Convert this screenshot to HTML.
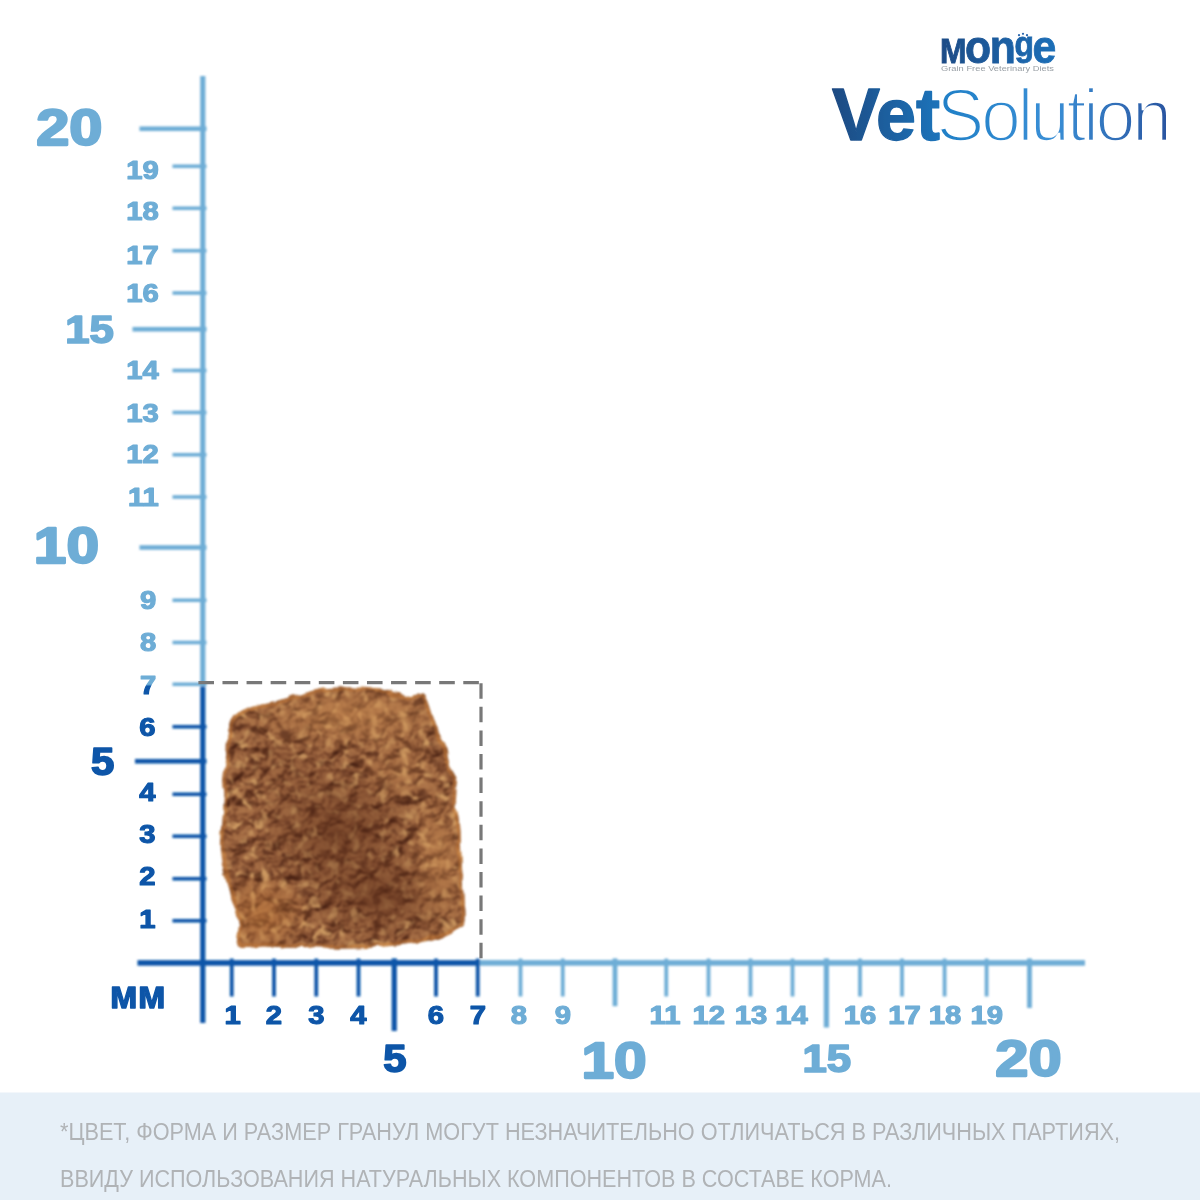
<!DOCTYPE html>
<html lang="ru"><head><meta charset="utf-8"><title>Monge VetSolution</title>
<style>
html,body{margin:0;padding:0;background:#fff;}
body{width:1200px;height:1200px;overflow:hidden;position:relative;font-family:"Liberation Sans",sans-serif;}
svg{position:absolute;left:0;top:0;display:block}
text{font-family:"Liberation Sans",sans-serif;}
.b{font-weight:700}
</style></head><body>
<svg width="1200" height="1200" viewBox="0 0 1200 1200">
<defs>
<linearGradient id="gVet" x1="0" x2="1" y1="0" y2="0"><stop offset="0" stop-color="#1f4a82"/><stop offset="1" stop-color="#1a73ba"/></linearGradient>
<linearGradient id="gSol" x1="0" x2="1" y1="0" y2="0"><stop offset="0" stop-color="#1f7fc6"/><stop offset="0.5" stop-color="#3a8fd6"/><stop offset="1" stop-color="#2a55a0"/></linearGradient>
<linearGradient id="gMon" x1="0" x2="1" y1="0" y2="0"><stop offset="0" stop-color="#1d4b86"/><stop offset="1" stop-color="#1f6fb8"/></linearGradient>
<filter id="soft" x="-5%" y="-5%" width="110%" height="110%"><feGaussianBlur stdDeviation="0.7"/></filter>
<filter id="soft2" x="-5%" y="-5%" width="110%" height="110%"><feGaussianBlur stdDeviation="0.65"/></filter>
<filter id="soft3" x="-2%" y="-2%" width="104%" height="104%"><feGaussianBlur stdDeviation="0.8"/></filter>
</defs>
<rect x="0" y="0" width="1200" height="1200" fill="#ffffff"/>
<rect x="0" y="1092.5" width="1200" height="108" fill="#e7f0f8"/>

<g filter="url(#soft3)">
<rect x="200.2" y="76" width="5.2" height="610.5" fill="#6eadd6"/>
<rect x="200.2" y="686.5" width="5.2" height="336.5" fill="#0b55a8"/>
<rect x="137.5" y="960.1" width="341" height="5.6" fill="#0b55a8"/>
<rect x="478" y="960.1" width="607" height="5.6" fill="#6eadd6"/>
<rect x="172.5" y="918.95" width="34" height="3.6" fill="#0b55a8"/>
<rect x="172.5" y="876.95" width="34" height="3.6" fill="#0b55a8"/>
<rect x="172.5" y="834.45" width="34" height="3.6" fill="#0b55a8"/>
<rect x="172.5" y="792.45" width="34" height="3.6" fill="#0b55a8"/>
<rect x="135" y="758.95" width="71.5" height="4.6" fill="#0b55a8"/>
<rect x="172.5" y="724.95" width="34" height="3.6" fill="#0b55a8"/>
<rect x="172.5" y="682.45" width="34" height="3.6" fill="#6eadd6"/>
<rect x="172.5" y="640.7" width="34" height="3.6" fill="#6eadd6"/>
<rect x="172.5" y="598.45" width="34" height="3.6" fill="#6eadd6"/>
<rect x="139.5" y="545.2" width="67" height="4.6" fill="#6eadd6"/>
<rect x="172.5" y="495.2" width="34" height="3.6" fill="#6eadd6"/>
<rect x="172.5" y="452.95" width="34" height="3.6" fill="#6eadd6"/>
<rect x="172.5" y="410.7" width="34" height="3.6" fill="#6eadd6"/>
<rect x="172.5" y="368.7" width="34" height="3.6" fill="#6eadd6"/>
<rect x="132.5" y="326.95" width="74.0" height="4.6" fill="#6eadd6"/>
<rect x="172.5" y="291.2" width="34" height="3.6" fill="#6eadd6"/>
<rect x="172.5" y="248.95" width="34" height="3.6" fill="#6eadd6"/>
<rect x="172.5" y="206.45" width="34" height="3.6" fill="#6eadd6"/>
<rect x="172.5" y="164.45" width="34" height="3.6" fill="#6eadd6"/>
<rect x="139.5" y="126.45" width="67" height="4.6" fill="#6eadd6"/>
<rect x="229.85" y="958.6" width="3.8" height="37.9" fill="#0b55a8"/>
<rect x="272.1" y="958.6" width="3.8" height="37.9" fill="#0b55a8"/>
<rect x="314.35" y="958.6" width="3.8" height="37.9" fill="#0b55a8"/>
<rect x="356.6" y="958.6" width="3.8" height="37.9" fill="#0b55a8"/>
<rect x="391.65" y="958.4" width="5.2" height="72.6" fill="#0b55a8"/>
<rect x="434.1" y="958.6" width="3.8" height="37.9" fill="#0b55a8"/>
<rect x="475.85" y="958.6" width="3.8" height="37.9" fill="#0b55a8"/>
<rect x="518.6" y="958.6" width="3.8" height="37.9" fill="#6eadd6"/>
<rect x="560.85" y="958.6" width="3.8" height="37.9" fill="#6eadd6"/>
<rect x="612.6" y="958.4" width="4.8" height="47.8" fill="#6eadd6"/>
<rect x="664.35" y="958.6" width="3.8" height="37.9" fill="#6eadd6"/>
<rect x="706.6" y="958.6" width="3.8" height="37.9" fill="#6eadd6"/>
<rect x="748.6" y="958.6" width="3.8" height="37.9" fill="#6eadd6"/>
<rect x="790.6" y="958.6" width="3.8" height="37.9" fill="#6eadd6"/>
<rect x="823.8" y="958.4" width="5.2" height="69.1" fill="#6eadd6"/>
<rect x="858.1" y="958.6" width="3.8" height="37.9" fill="#6eadd6"/>
<rect x="900.1" y="958.6" width="3.8" height="37.9" fill="#6eadd6"/>
<rect x="942.7" y="958.6" width="3.8" height="37.9" fill="#6eadd6"/>
<rect x="984.7" y="958.6" width="3.8" height="37.9" fill="#6eadd6"/>
<rect x="1027.1" y="958.4" width="4.8" height="49.6" fill="#6eadd6"/>
</g>
<g filter="url(#soft)">
<text class="b" transform="translate(155.6 927.75) scale(1.16 1)" x="0" y="0" font-size="25.2" fill="#0b55a8" stroke="#0b55a8" stroke-width="1.13" stroke-linejoin="round" text-anchor="end">1</text>
<text class="b" transform="translate(155.6 884.8) scale(1.16 1)" x="0" y="0" font-size="25.2" fill="#0b55a8" stroke="#0b55a8" stroke-width="1.13" stroke-linejoin="round" text-anchor="end">2</text>
<text class="b" transform="translate(155.6 843.2) scale(1.16 1)" x="0" y="0" font-size="25.2" fill="#0b55a8" stroke="#0b55a8" stroke-width="1.13" stroke-linejoin="round" text-anchor="end">3</text>
<text class="b" transform="translate(155.6 801.3) scale(1.16 1)" x="0" y="0" font-size="25.2" fill="#0b55a8" stroke="#0b55a8" stroke-width="1.13" stroke-linejoin="round" text-anchor="end">4</text>
<text class="b" transform="translate(155.6 736.0) scale(1.16 1)" x="0" y="0" font-size="25.2" fill="#0b55a8" stroke="#0b55a8" stroke-width="1.13" stroke-linejoin="round" text-anchor="end">6</text>
<linearGradient id="g7" gradientUnits="userSpaceOnUse" x1="0" x2="0" y1="-18" y2="0"><stop offset="0.48" stop-color="#6eadd6"/><stop offset="0.6" stop-color="#0b55a8"/></linearGradient>
<text class="b" transform="translate(156.2 693.6) scale(1.16 1)" x="0" y="0" font-size="25.2" fill="url(#g7)" stroke="url(#g7)" stroke-width="1.13" stroke-linejoin="round" text-anchor="end">7</text>
<text class="b" transform="translate(156.2 650.75) scale(1.16 1)" x="0" y="0" font-size="25.2" fill="#6eadd6" stroke="#6eadd6" stroke-width="1.13" stroke-linejoin="round" text-anchor="end">8</text>
<text class="b" transform="translate(156.2 609.0) scale(1.16 1)" x="0" y="0" font-size="25.2" fill="#6eadd6" stroke="#6eadd6" stroke-width="1.13" stroke-linejoin="round" text-anchor="end">9</text>
<text class="b" transform="translate(158.8 505.5) scale(1.16 1)" x="0" y="0" font-size="25.2" fill="#6eadd6" stroke="#6eadd6" stroke-width="1.13" stroke-linejoin="round" text-anchor="end">11</text>
<text class="b" transform="translate(158.8 462.5) scale(1.16 1)" x="0" y="0" font-size="25.2" fill="#6eadd6" stroke="#6eadd6" stroke-width="1.13" stroke-linejoin="round" text-anchor="end">12</text>
<text class="b" transform="translate(158.8 421.5) scale(1.16 1)" x="0" y="0" font-size="25.2" fill="#6eadd6" stroke="#6eadd6" stroke-width="1.13" stroke-linejoin="round" text-anchor="end">13</text>
<text class="b" transform="translate(158.8 379.0) scale(1.16 1)" x="0" y="0" font-size="25.2" fill="#6eadd6" stroke="#6eadd6" stroke-width="1.13" stroke-linejoin="round" text-anchor="end">14</text>
<text class="b" transform="translate(158.8 301.7) scale(1.16 1)" x="0" y="0" font-size="25.2" fill="#6eadd6" stroke="#6eadd6" stroke-width="1.13" stroke-linejoin="round" text-anchor="end">16</text>
<text class="b" transform="translate(158.8 263.5) scale(1.16 1)" x="0" y="0" font-size="25.2" fill="#6eadd6" stroke="#6eadd6" stroke-width="1.13" stroke-linejoin="round" text-anchor="end">17</text>
<text class="b" transform="translate(158.8 220.1) scale(1.16 1)" x="0" y="0" font-size="25.2" fill="#6eadd6" stroke="#6eadd6" stroke-width="1.13" stroke-linejoin="round" text-anchor="end">18</text>
<text class="b" transform="translate(158.8 179.4) scale(1.16 1)" x="0" y="0" font-size="25.2" fill="#6eadd6" stroke="#6eadd6" stroke-width="1.13" stroke-linejoin="round" text-anchor="end">19</text>
<text class="b" transform="translate(102.5 145.2) scale(1.18 1)" x="0" y="0" font-size="50.5" fill="#6eadd6" stroke="#6eadd6" stroke-width="2.27" stroke-linejoin="round" text-anchor="end">20</text>
<text class="b" transform="translate(113.8 343.3) scale(1.12 1)" x="0" y="0" font-size="39" fill="#6eadd6" stroke="#6eadd6" stroke-width="1.75" stroke-linejoin="round" text-anchor="end">15</text>
<text class="b" transform="translate(99 563.2) scale(1.16 1)" x="0" y="0" font-size="50.5" fill="#6eadd6" stroke="#6eadd6" stroke-width="2.27" stroke-linejoin="round" text-anchor="end">10</text>
<text class="b" transform="translate(114.2 775.2) scale(1.1 1)" x="0" y="0" font-size="38" fill="#0b55a8" stroke="#0b55a8" stroke-width="1.71" stroke-linejoin="round" text-anchor="end">5</text>
<text class="b" transform="translate(232.75 1023.8) scale(1.16 1)" x="0" y="0" font-size="25.2" fill="#0b55a8" stroke="#0b55a8" stroke-width="1.13" stroke-linejoin="round" text-anchor="middle">1</text>
<text class="b" transform="translate(274 1023.8) scale(1.16 1)" x="0" y="0" font-size="25.2" fill="#0b55a8" stroke="#0b55a8" stroke-width="1.13" stroke-linejoin="round" text-anchor="middle">2</text>
<text class="b" transform="translate(316.5 1023.8) scale(1.16 1)" x="0" y="0" font-size="25.2" fill="#0b55a8" stroke="#0b55a8" stroke-width="1.13" stroke-linejoin="round" text-anchor="middle">3</text>
<text class="b" transform="translate(358.5 1023.8) scale(1.16 1)" x="0" y="0" font-size="25.2" fill="#0b55a8" stroke="#0b55a8" stroke-width="1.13" stroke-linejoin="round" text-anchor="middle">4</text>
<text class="b" transform="translate(436 1023.8) scale(1.16 1)" x="0" y="0" font-size="25.2" fill="#0b55a8" stroke="#0b55a8" stroke-width="1.13" stroke-linejoin="round" text-anchor="middle">6</text>
<text class="b" transform="translate(478 1023.8) scale(1.16 1)" x="0" y="0" font-size="25.2" fill="#0b55a8" stroke="#0b55a8" stroke-width="1.13" stroke-linejoin="round" text-anchor="middle">7</text>
<text class="b" transform="translate(519 1023.8) scale(1.16 1)" x="0" y="0" font-size="25.2" fill="#6eadd6" stroke="#6eadd6" stroke-width="1.13" stroke-linejoin="round" text-anchor="middle">8</text>
<text class="b" transform="translate(563 1023.8) scale(1.16 1)" x="0" y="0" font-size="25.2" fill="#6eadd6" stroke="#6eadd6" stroke-width="1.13" stroke-linejoin="round" text-anchor="middle">9</text>
<text class="b" transform="translate(665 1023.8) scale(1.16 1)" x="0" y="0" font-size="25.2" fill="#6eadd6" stroke="#6eadd6" stroke-width="1.13" stroke-linejoin="round" text-anchor="middle">11</text>
<text class="b" transform="translate(708.75 1023.8) scale(1.16 1)" x="0" y="0" font-size="25.2" fill="#6eadd6" stroke="#6eadd6" stroke-width="1.13" stroke-linejoin="round" text-anchor="middle">12</text>
<text class="b" transform="translate(751 1023.8) scale(1.16 1)" x="0" y="0" font-size="25.2" fill="#6eadd6" stroke="#6eadd6" stroke-width="1.13" stroke-linejoin="round" text-anchor="middle">13</text>
<text class="b" transform="translate(791.6 1023.8) scale(1.16 1)" x="0" y="0" font-size="25.2" fill="#6eadd6" stroke="#6eadd6" stroke-width="1.13" stroke-linejoin="round" text-anchor="middle">14</text>
<text class="b" transform="translate(860 1023.8) scale(1.16 1)" x="0" y="0" font-size="25.2" fill="#6eadd6" stroke="#6eadd6" stroke-width="1.13" stroke-linejoin="round" text-anchor="middle">16</text>
<text class="b" transform="translate(904.5 1023.8) scale(1.16 1)" x="0" y="0" font-size="25.2" fill="#6eadd6" stroke="#6eadd6" stroke-width="1.13" stroke-linejoin="round" text-anchor="middle">17</text>
<text class="b" transform="translate(945 1023.8) scale(1.16 1)" x="0" y="0" font-size="25.2" fill="#6eadd6" stroke="#6eadd6" stroke-width="1.13" stroke-linejoin="round" text-anchor="middle">18</text>
<text class="b" transform="translate(986.75 1023.8) scale(1.16 1)" x="0" y="0" font-size="25.2" fill="#6eadd6" stroke="#6eadd6" stroke-width="1.13" stroke-linejoin="round" text-anchor="middle">19</text>
<text class="b" transform="translate(395 1071.7) scale(1.1 1)" x="0" y="0" font-size="38" fill="#0b55a8" stroke="#0b55a8" stroke-width="1.71" stroke-linejoin="round" text-anchor="middle">5</text>
<text class="b" transform="translate(614 1078) scale(1.16 1)" x="0" y="0" font-size="50.5" fill="#6eadd6" stroke="#6eadd6" stroke-width="2.27" stroke-linejoin="round" text-anchor="middle">10</text>
<text class="b" transform="translate(826.7 1072) scale(1.12 1)" x="0" y="0" font-size="39" fill="#6eadd6" stroke="#6eadd6" stroke-width="1.75" stroke-linejoin="round" text-anchor="middle">15</text>
<text class="b" transform="translate(1028.5 1076.3) scale(1.18 1)" x="0" y="0" font-size="50.5" fill="#6eadd6" stroke="#6eadd6" stroke-width="2.27" stroke-linejoin="round" text-anchor="middle">20</text>
<text class="b" transform="translate(137.7 1007.6) scale(0.96 1)" x="0" y="0" font-size="39.5" fill="#0b55a8" stroke="#0b55a8" stroke-width="1.3" stroke-linejoin="round" text-anchor="middle">мм</text>
</g><defs>
<clipPath id="kclip"><path d="M236.5 713.9C239.9 711.3 245.5 708.3 252.0 706.2C258.5 704.0 267.1 702.9 275.2 701.0C283.4 699.1 293.8 696.5 301.1 694.5C308.4 692.6 312.7 690.5 319.2 689.4C325.6 688.2 332.1 687.8 339.8 687.6C347.6 687.4 357.9 687.6 365.7 688.1C373.4 688.6 379.9 689.4 386.3 690.7C392.8 692.0 399.2 695.3 404.4 695.8C409.6 696.4 413.9 693.6 417.3 693.8C420.8 694.0 422.7 693.8 425.1 697.1C427.5 700.5 429.4 708.1 431.5 713.9C433.7 719.7 435.6 726.4 438.0 732.0C440.4 737.6 443.8 741.9 445.8 747.5C447.7 753.1 447.9 759.6 449.6 765.6C451.3 771.6 455.0 777.2 456.1 783.7C457.2 790.1 455.4 797.4 456.1 804.3C456.7 811.2 459.1 817.2 460.0 825.0C460.8 832.8 460.8 842.2 461.2 850.8C461.7 859.4 462.1 868.1 462.5 876.7C463.0 885.3 463.6 894.8 463.8 902.5C464.0 910.2 465.6 918.4 463.8 923.2C462.1 927.9 458.2 928.3 453.5 930.9C448.8 933.5 442.7 936.5 435.4 938.7C428.1 940.8 420.3 942.3 409.6 943.8C398.8 945.3 383.8 946.9 370.8 947.7C357.9 948.5 345.0 948.5 332.1 948.5C319.2 948.5 305.0 948.1 293.3 947.7C281.7 947.4 270.9 946.4 262.3 946.4C253.7 946.4 246.0 949.0 241.7 947.7C237.4 946.4 237.1 942.8 236.5 938.7C235.9 934.6 238.4 929.2 237.8 923.2C237.1 917.1 234.6 910.2 232.6 902.5C230.7 894.8 228.1 885.3 226.2 876.7C224.2 868.1 221.6 859.4 221.0 850.8C220.4 842.2 221.9 833.6 222.3 825.0C222.7 816.4 223.6 806.9 223.6 799.2C223.6 791.4 221.9 785.8 222.3 778.5C222.7 771.2 225.3 762.6 226.2 755.2C227.0 747.9 226.6 740.2 227.5 734.6C228.3 729.0 229.8 725.1 231.3 721.7C232.8 718.2 233.1 716.5 236.5 713.9Z"/></clipPath>
<radialGradient id="b1" cx="0.5" cy="0.5" r="0.5"><stop offset="0" stop-color="#5e2f1a" stop-opacity="0.6"/><stop offset="1" stop-color="#5e2f1a" stop-opacity="0"/></radialGradient>
<radialGradient id="b2" cx="0.5" cy="0.5" r="0.5"><stop offset="0" stop-color="#c98a50" stop-opacity="0.6"/><stop offset="1" stop-color="#c98a50" stop-opacity="0"/></radialGradient>
<radialGradient id="b3" cx="0.5" cy="0.5" r="0.5"><stop offset="0" stop-color="#c27a3c" stop-opacity="0.55"/><stop offset="1" stop-color="#c27a3c" stop-opacity="0"/></radialGradient>
<filter id="nz" x="0" y="0" width="100%" height="100%" color-interpolation-filters="sRGB">
<feTurbulence type="fractalNoise" baseFrequency="0.065" numOctaves="3" seed="5" result="t"/>
<feColorMatrix in="t" type="matrix" values="0 0 0 0 0  0 0 0 0 0  0 0 0 0 0  1.0 0 0 0 0" result="bump"/>
<feDiffuseLighting in="bump" surfaceScale="8" diffuseConstant="0.78" lighting-color="#ffffff" result="lit"><feDistantLight azimuth="250" elevation="52"/></feDiffuseLighting>
<feComponentTransfer in="lit" result="base">
<feFuncR type="table" tableValues="0.27 0.40 0.53 0.65 0.80"/>
<feFuncG type="table" tableValues="0.12 0.22 0.32 0.43 0.60"/>
<feFuncB type="table" tableValues="0.07 0.13 0.20 0.27 0.40"/>
</feComponentTransfer>
<feTurbulence type="fractalNoise" baseFrequency="0.1" numOctaves="2" seed="23" result="t2"/>
<feColorMatrix in="t2" type="matrix" values="0 0 0 0 0.80  0 0 0 0 0.60  0 0 0 0 0.38  4.2 0 0 0 -2.25" result="lightS"/>
<feColorMatrix in="t2" type="matrix" values="0 0 0 0 0.36  0 0 0 0 0.19  0 0 0 0 0.12  0 -4.0 0 0 1.55" result="darkS"/>
<feMerge><feMergeNode in="base"/><feMergeNode in="darkS"/><feMergeNode in="lightS"/></feMerge>
</filter>
<filter id="kfx" x="-6%" y="-6%" width="112%" height="112%" color-interpolation-filters="sRGB">
<feTurbulence type="fractalNoise" baseFrequency="0.07" numOctaves="2" seed="3" result="d"/>
<feDisplacementMap in="SourceGraphic" in2="d" scale="7" xChannelSelector="R" yChannelSelector="G" result="o"/>
<feGaussianBlur in="o" stdDeviation="1.15"/>
</filter>
</defs>
<g filter="url(#kfx)">
<g clip-path="url(#kclip)">
<rect x="210" y="676" width="265" height="284" filter="url(#nz)"/>
<ellipse cx="340" cy="835" rx="85" ry="75" fill="url(#b1)"/>
<ellipse cx="380" cy="898" rx="80" ry="45" fill="url(#b1)"/>
<ellipse cx="285" cy="770" rx="55" ry="45" fill="url(#b1)" opacity="0.25"/>
<ellipse cx="350" cy="715" rx="120" ry="38" fill="url(#b2)"/>
<ellipse cx="440" cy="860" rx="35" ry="85" fill="url(#b2)" opacity="0.8"/>
<ellipse cx="262" cy="915" rx="50" ry="45" fill="url(#b3)"/>
<ellipse cx="400" cy="770" rx="45" ry="40" fill="url(#b2)" opacity="0.5"/>
<path d="M236.5 713.9C239.9 711.3 245.5 708.3 252.0 706.2C258.5 704.0 267.1 702.9 275.2 701.0C283.4 699.1 293.8 696.5 301.1 694.5C308.4 692.6 312.7 690.5 319.2 689.4C325.6 688.2 332.1 687.8 339.8 687.6C347.6 687.4 357.9 687.6 365.7 688.1C373.4 688.6 379.9 689.4 386.3 690.7C392.8 692.0 399.2 695.3 404.4 695.8C409.6 696.4 413.9 693.6 417.3 693.8C420.8 694.0 422.7 693.8 425.1 697.1C427.5 700.5 429.4 708.1 431.5 713.9C433.7 719.7 435.6 726.4 438.0 732.0C440.4 737.6 443.8 741.9 445.8 747.5C447.7 753.1 447.9 759.6 449.6 765.6C451.3 771.6 455.0 777.2 456.1 783.7C457.2 790.1 455.4 797.4 456.1 804.3C456.7 811.2 459.1 817.2 460.0 825.0C460.8 832.8 460.8 842.2 461.2 850.8C461.7 859.4 462.1 868.1 462.5 876.7C463.0 885.3 463.6 894.8 463.8 902.5C464.0 910.2 465.6 918.4 463.8 923.2C462.1 927.9 458.2 928.3 453.5 930.9C448.8 933.5 442.7 936.5 435.4 938.7C428.1 940.8 420.3 942.3 409.6 943.8C398.8 945.3 383.8 946.9 370.8 947.7C357.9 948.5 345.0 948.5 332.1 948.5C319.2 948.5 305.0 948.1 293.3 947.7C281.7 947.4 270.9 946.4 262.3 946.4C253.7 946.4 246.0 949.0 241.7 947.7C237.4 946.4 237.1 942.8 236.5 938.7C235.9 934.6 238.4 929.2 237.8 923.2C237.1 917.1 234.6 910.2 232.6 902.5C230.7 894.8 228.1 885.3 226.2 876.7C224.2 868.1 221.6 859.4 221.0 850.8C220.4 842.2 221.9 833.6 222.3 825.0C222.7 816.4 223.6 806.9 223.6 799.2C223.6 791.4 221.9 785.8 222.3 778.5C222.7 771.2 225.3 762.6 226.2 755.2C227.0 747.9 226.6 740.2 227.5 734.6C228.3 729.0 229.8 725.1 231.3 721.7C232.8 718.2 233.1 716.5 236.5 713.9Z" fill="none" stroke="#c47a38" stroke-width="7" opacity="0.55"/>
</g>
</g>

<g filter="url(#soft2)" fill="none" stroke="#787878" stroke-width="3.2">
<path d="M198.4 682.7 H482.6" stroke-dasharray="15.6 8.48"/>
<path d="M481 683.2 V959.5" stroke-dasharray="15.5 8.1"/>
</g>
<g filter="url(#soft)">
<text x="940" y="62.8" font-weight="700" fill="url(#gMon)" stroke="url(#gMon)" stroke-width="0.9" letter-spacing="-1.5" textLength="115" lengthAdjust="spacingAndGlyphs"><tspan font-size="35">M</tspan><tspan font-size="47">on</tspan><tspan font-size="35" dy="-7.2">g</tspan><tspan font-size="47" dy="7.2">e</tspan></text>
<circle cx="1019" cy="35.2" r="1.1" fill="#2a66ad"/><circle cx="1023" cy="33.8" r="1.1" fill="#2a66ad"/><circle cx="1027" cy="35.2" r="1.1" fill="#2a66ad"/>
<text x="941" y="71.3" font-size="7" fill="#9aa0a6" textLength="113" lengthAdjust="spacingAndGlyphs">Grain Free Veterinary Diets</text>
<text x="832" y="140.3" font-size="74" font-weight="700" fill="url(#gVet)" stroke="url(#gVet)" stroke-width="1.4" stroke-linejoin="round" textLength="108" lengthAdjust="spacingAndGlyphs">Vet</text>
<text x="936.5" y="140.8" font-size="75" fill="url(#gSol)" stroke="#ffffff" stroke-width="2.7" paint-order="fill stroke" letter-spacing="-3.6" textLength="232" lengthAdjust="spacingAndGlyphs">Solution</text>
</g>
<g filter="url(#soft2)" fill="#b0b3b6">
<text x="60" y="1139.6" font-size="24.8" textLength="1060" lengthAdjust="spacingAndGlyphs">*ЦВЕТ, ФОРМА И РАЗМЕР ГРАНУЛ МОГУТ НЕЗНАЧИТЕЛЬНО ОТЛИЧАТЬСЯ В РАЗЛИЧНЫХ ПАРТИЯХ,</text>
<text x="60" y="1187.4" font-size="24.8" textLength="832" lengthAdjust="spacingAndGlyphs">ВВИДУ ИСПОЛЬЗОВАНИЯ НАТУРАЛЬНЫХ КОМПОНЕНТОВ В СОСТАВЕ КОРМА.</text>
</g>
</svg></body></html>
